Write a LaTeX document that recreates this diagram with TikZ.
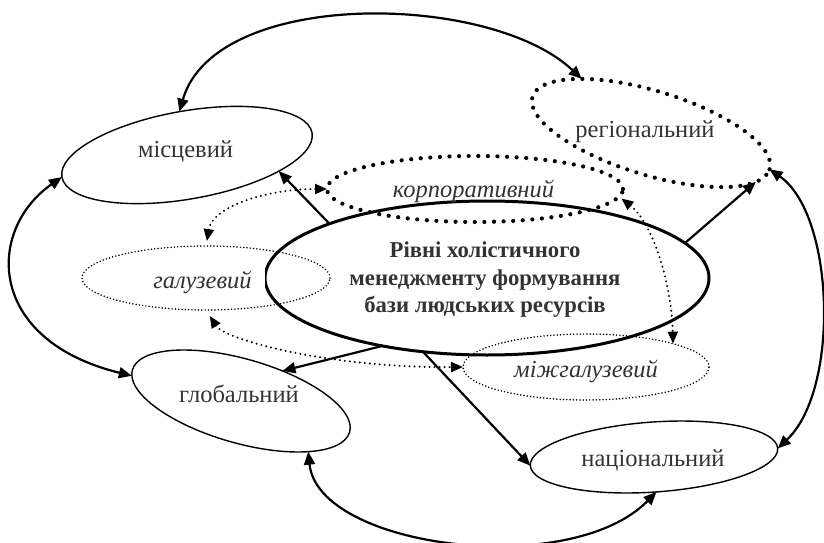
\documentclass[tikz,border=0pt]{standalone}
\usepackage{fontspec}
\setmainfont{Liberation Serif}
\usetikzlibrary{shapes.geometric,arrows.meta}

\begin{document}
\begin{tikzpicture}[x=1pt,y=-1pt,
  lvl/.style={ellipse, draw, line width=1.4pt, inner sep=0pt, outer sep=0pt},
  mainlvl/.style={ellipse, draw, line width=3pt, inner sep=0pt, outer sep=0pt},
  dotthick/.style={ellipse, draw, line width=4.2pt, line cap=round,
    dash pattern=on 0pt off 9.6pt, inner sep=0pt, outer sep=0pt},
  dotthin/.style={ellipse, draw, line width=1.7pt, line cap=round,
    dash pattern=on 0pt off 3.3pt, inner sep=0pt, outer sep=0pt},
  lbl/.style={text=black!80, font=\fontsize{24.5}{28}\selectfont, inner sep=0pt},
  ilbl/.style={lbl, font=\fontsize{24.5}{28}\selectfont\itshape},
  conn/.style={line width=2.2pt, {Triangle[length=13pt,width=11pt]}-{Triangle[length=13pt,width=11pt]}},
  oneway/.style={line width=2.2pt, -{Triangle[length=13pt,width=11pt]}},
  dconn/.style={line width=2.2pt, line cap=round, dash pattern=on 0pt off 5pt,
    {Triangle[length=12pt,width=10pt]}-{Triangle[length=12pt,width=10pt]}},
]
\useasboundingbox (0,0) rectangle (824,543);

% level ellipses
\node[lvl, minimum width=254pt, minimum height=88pt, rotate=10] (mis) at (187,155) {};
\node[dotthick, minimum width=248pt, minimum height=84pt, rotate=-17] (reg) at (651,133) {};
\node[dotthick, minimum width=296pt, minimum height=66pt] (corp) at (475,189) {};
\node[dotthin, minimum width=248pt, minimum height=64pt] (gal) at (206,278) {};
\node[dotthin, minimum width=246pt, minimum height=66pt] (mizh) at (586,367) {};
\node[lvl, minimum width=226pt, minimum height=84pt, rotate=-16] (glob) at (241,401) {};
\node[lvl, minimum width=248pt, minimum height=70pt, rotate=4] (nat) at (654,457) {};
\node[mainlvl, minimum width=444pt, minimum height=154pt] (cent) at (487,278) {};

% labels
\node[lbl, anchor=base] (tmis) at (185.5,157) {місцевий};
\node[lbl, anchor=base] (treg) at (645,137) {регіональний};
\node[ilbl, anchor=base] (tcorp) at (473.5,197) {корпоративний};
\node[ilbl, anchor=base, fill=white, text height=18pt, text depth=4pt,
      inner xsep=13pt, inner ysep=4pt] (tgal) at (202.5,288) {галузевий};
\node[lbl, anchor=base] (tglob) at (239,402) {глобальний};
\node[ilbl, anchor=base] (tmizh) at (586,377) {міжгалузевий};
\node[lbl, anchor=base] (tnat) at (653,466) {національний};
\node[text=black!80, font=\fontsize{22.7}{27.5}\selectfont\bfseries, align=center,
      inner sep=0pt] (tcent) at (485,280)
  {Рівні холістичного\\менеджменту формування\\бази людських ресурсів};

% outer ring of two-way links
\draw[conn] (mis.90) .. controls (215,-12) and (490,-8) .. (reg.159);
\draw[conn] (mis.180) .. controls (-14,230) and (-14,340) .. (glob.183);
\draw[conn] (reg.0) .. controls (835,215) and (840,390) .. (nat.0);
\draw[conn] (glob.339) .. controls (318,548) and (570,580) .. (nat.270);

% links from the central ellipse
\draw[oneway] (cent.161) -- (mis.340);
\draw[oneway] (cent.10) -- (reg.352);
\draw[oneway] (cent.213) -- (glob.52);
\draw[oneway] (cent.229) -- (nat.180);

% dotted links between the inner levels
\draw[dconn, shorten <=5pt] (gal.90) .. controls (213,205) and (270,189) .. (corp.180);
\draw[dconn, shorten <=7pt] (gal.270) .. controls (225,340) and (330,368) .. (mizh.180);
\draw[dconn, shorten <=3pt] (corp.-3) .. controls (655,225) and (672,290) .. (mizh.15);
\end{tikzpicture}
\end{document}
